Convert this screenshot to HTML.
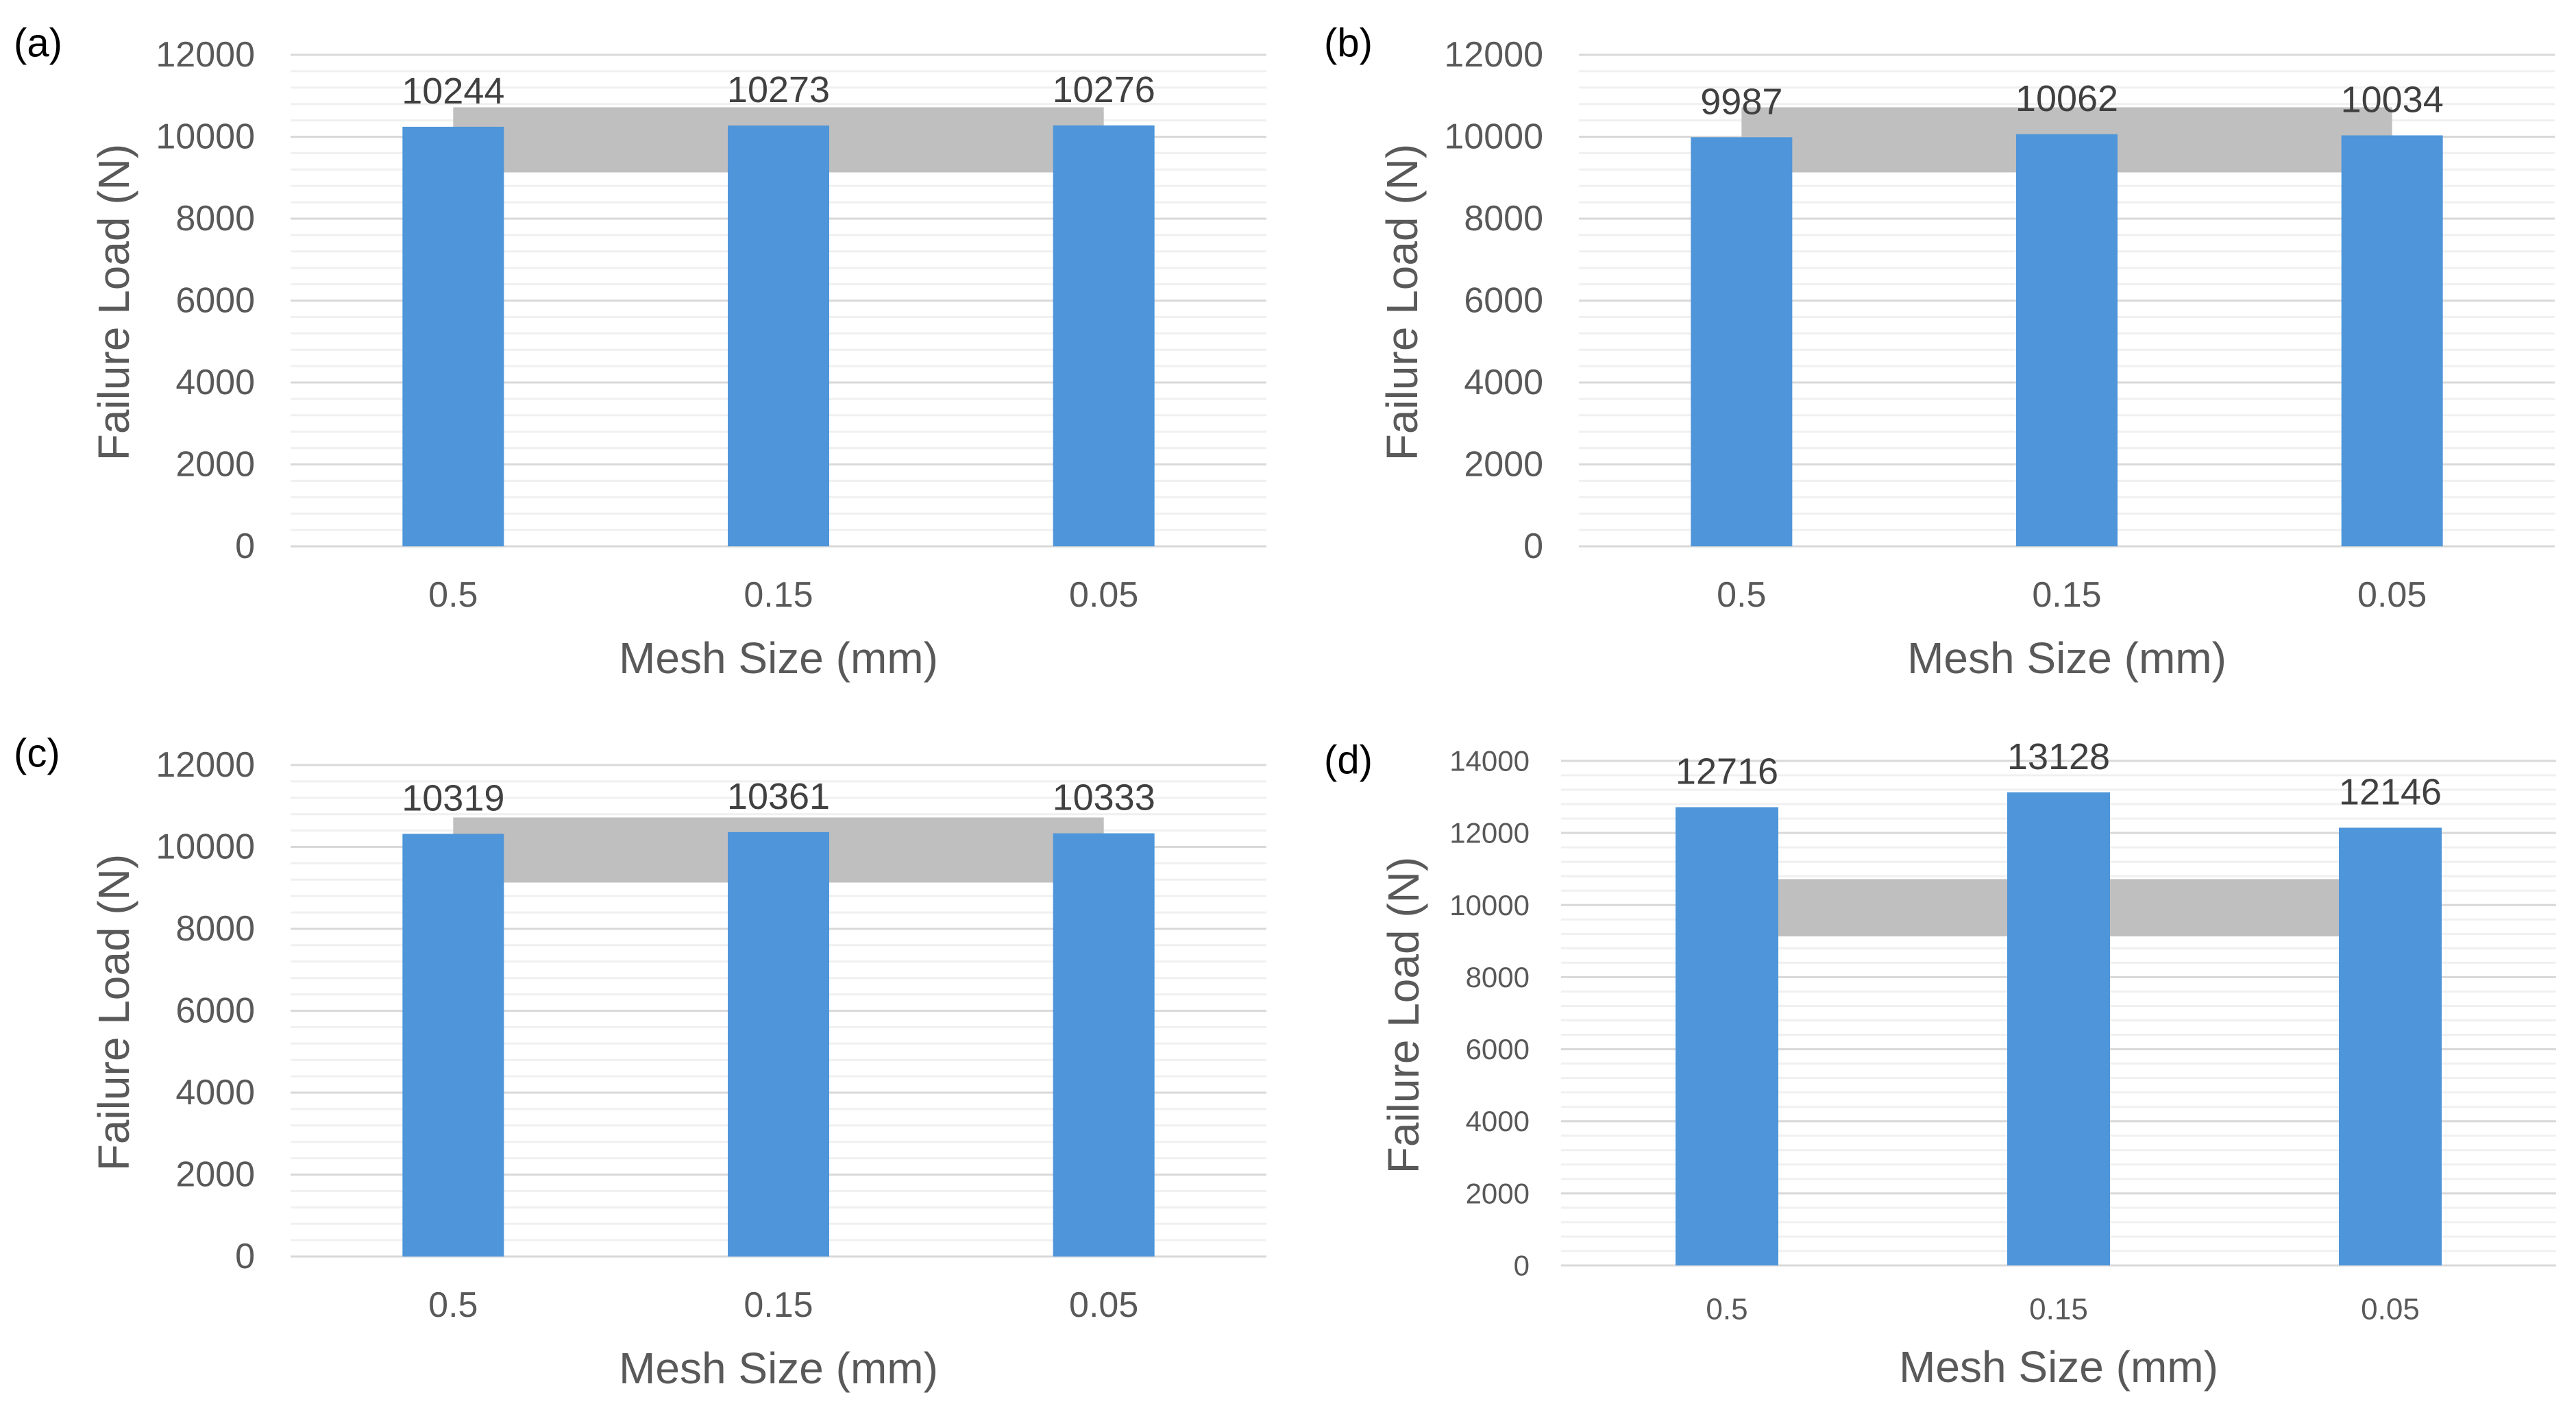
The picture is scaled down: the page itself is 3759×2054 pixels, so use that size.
<!DOCTYPE html>
<html><head><meta charset="utf-8">
<style>
html,body{margin:0;padding:0;background:#fff;}
svg{display:block;font-family:"Liberation Sans",Arial,sans-serif;}
</style></head>
<body>
<svg id="chart" width="3759" height="2054" viewBox="0 0 3759 2054" xmlns="http://www.w3.org/2000/svg"></svg>
<script>
const categories = ["0.5", "0.15", "0.05"];
const valuesA = [10244, 10273, 10276];
const valuesB = [9987, 10062, 10034];
const valuesC = [10319, 10361, 10333];
const valuesD = [12716, 13128, 12146];
const bandLow = 9130;
const bandHigh = 10720;
const ticksABC = [0, 2000, 4000, 6000, 8000, 10000, 12000];
const ticksD = [0, 2000, 4000, 6000, 8000, 10000, 12000, 14000];
const panelLabels = ["(a)", "(b)", "(c)", "(d)"];

const NS = "http://www.w3.org/2000/svg";
const svg = document.getElementById("chart");
function mk(tag, attrs, parent, text) {
  const e = document.createElementNS(NS, tag);
  for (const k in attrs) e.setAttribute(k, attrs[k]);
  if (text !== undefined) e.textContent = text;
  (parent || svg).appendChild(e);
  return e;
}

function panel(cfg) {
  const g = mk("g", {});
  
  
  const maxV = cfg.ticks[cfg.ticks.length - 1];
  const y = v => cfg.y0 - (v / maxV) * (cfg.y0 - cfg.yTop);
  const cw = (cfg.x1 - cfg.x0) / categories.length;
  const cx = i => cfg.x0 + cw * (i + 0.5);
  const bw = cfg.bw;

  for (let v = 0; v <= maxV; v += 400) {
    const ln = mk("line", {x1: cfg.x0, x2: cfg.x1, y1: y(v), y2: y(v), stroke: "#f0f0f0", "stroke-width": 3}, g);
    
    
  }
  cfg.ticks.forEach(t => {
    const ln = mk("line", {x1: cfg.x0, x2: cfg.x1, y1: y(t), y2: y(t), stroke: "#d9d9d9", "stroke-width": 3}, g);
    
    
    const tx = mk("text", {x: cfg.tickX, y: y(t), "text-anchor": "end", "dominant-baseline": "central", "font-size": cfg.tickFs, fill: "#595959"}, g, String(t));
    
    
  });
  const band = mk("rect", {x: cx(0), y: y(bandHigh), width: cx(categories.length - 1) - cx(0), height: y(bandLow) - y(bandHigh), fill: "#bfbfbf"}, g);
  
  
  cfg.values.forEach((v, i) => {
    const r = mk("rect", {x: cx(i) - bw / 2, y: y(v), width: bw, height: cfg.y0 - y(v), fill: "#4e95d9"}, g);
    
    
    const t = mk("text", {x: cx(i), y: y(v) - 34, "text-anchor": "middle", "font-size": 54, fill: "#404040"}, g, String(v));
    
    
    const xl = mk("text", {x: cx(i), y: cfg.xLabY, "text-anchor": "middle", "dominant-baseline": "central", "font-size": cfg.xFs, fill: "#595959"}, g, categories[i]);
    
    
  });
  const xt = mk("text", {x: (cfg.x0 + cfg.x1) / 2, y: cfg.xTitleY, "text-anchor": "middle", "dominant-baseline": "central", "font-size": 64, fill: "#595959"}, g, "Mesh Size (mm)");
  
  
  const yt = mk("text", {x: 0, y: 0, transform: "translate(" + cfg.yTitleX + "," + cfg.yTitleY + ") rotate(-90)", "text-anchor": "middle", "dominant-baseline": "central", "font-size": 64, fill: "#595959"}, g, "Failure Load (N)");
  
  
  const pl = mk("text", {x: cfg.labX, y: cfg.labY, "dominant-baseline": "central", "font-size": 58, fill: "#000"}, g, cfg.label);
  
  
}

function std(id, dx, dy, values, label, labX) {
  return {id, values, label, ticks: ticksABC,
    x0: 424 + dx, x1: 1848 + dx, y0: 797 + dy, yTop: 80 + dy, bw: 148,
    tickX: 372 + dx, tickFs: 52, xLabY: 868 + dy, xFs: 52, xTitleY: 960 + dy,
    yTitleX: 166 + dx, yTitleY: 441 + dy, labX: labX, labY: 63 + dy};
}
panel(std("a", 0, 0, valuesA, panelLabels[0], 20));
panel(std("b", 1880, 0, valuesB, panelLabels[1], 1932));
panel(std("c", 0, 1036, valuesC, panelLabels[2], 20));
panel({id: "d", values: valuesD, label: panelLabels[3], ticks: ticksD,
  x0: 2278, x1: 3730, y0: 1846, yTop: 1110, bw: 150,
  tickX: 2232, tickFs: 42, xLabY: 1910, xFs: 44, xTitleY: 1994,
  yTitleX: 2048, yTitleY: 1481, labX: 1932, labY: 1109});
</script>
</body></html>
